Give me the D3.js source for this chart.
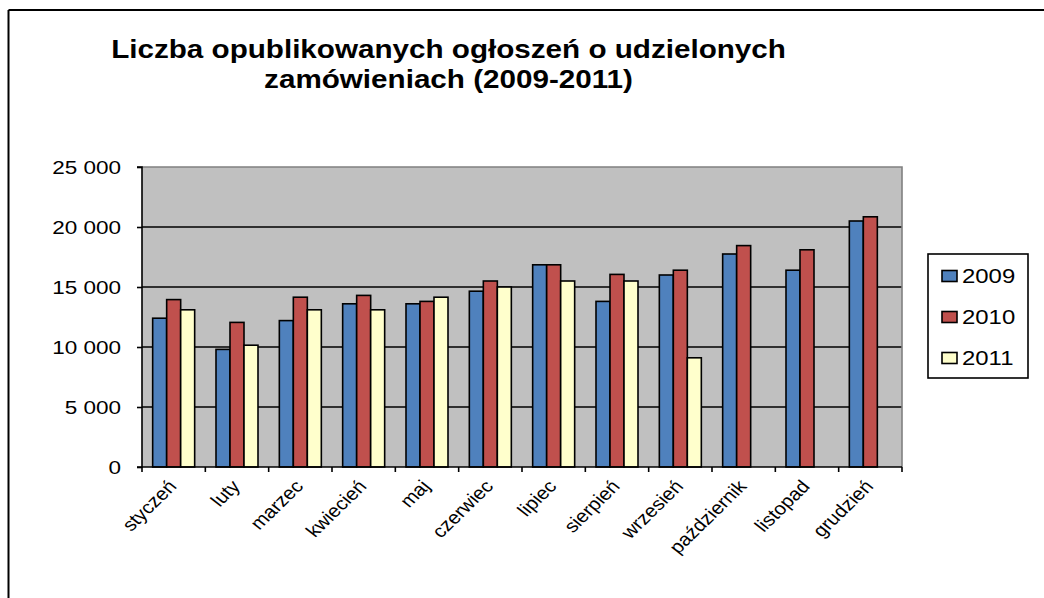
<!DOCTYPE html>
<html><head><meta charset="utf-8">
<script src="https://cdn.jsdelivr.net/npm/d3@7"></script>
<style>body{margin:0;background:#fff}svg{display:block}text{font-family:"Liberation Sans",Arial,sans-serif}</style>
</head><body>
<script>
const categories = ["styczeń","luty","marzec","kwiecień","maj","czerwiec","lipiec","sierpień","wrzesień","październik","listopad","grudzień"];
const seriesNames = ["2009","2010","2011"];
const values2009 = [12400, 9800, 12200, 13600, 13600, 14650, 16850, 13800, 16000, 17750, 16400, 20500];
const values2010 = [13950, 12050, 14150, 14300, 13800, 15500, 16850, 16050, 16400, 18450, 18100, 20850];
const values2011 = [13100, 10150, 13100, 13100, 14150, 15000, 15500, 15500, 9100, null, null, null];
const yTicks = [0, 5000, 10000, 15000, 20000, 25000];
const titleLines = ["Liczba opublikowanych ogłoszeń o udzielonych", "zamówieniach (2009-2011)"];
const colors = ["#4F81BD", "#C0504D", "#FFFFCC"];
const SX = 1.14;

(function(){
const W = 1044, H = 598;
const svg = d3.select("body").append("svg").attr("width", W).attr("height", H);

// outer frame
svg.append("line").attr("x1",8.5).attr("x2",8.5).attr("y1",10).attr("y2",H).attr("stroke","#000").attr("stroke-width",2);
svg.append("line").attr("x1",8.5).attr("x2",W).attr("y1",10).attr("y2",10).attr("stroke","#000").attr("stroke-width",2);

// title
titleLines.forEach((t,i)=>{
  svg.append("text").attr("transform",`translate(448.5,${58+i*30}) scale(${SX},1)`)
    .attr("text-anchor","middle").attr("font-size",26).attr("font-weight","bold").attr("fill","#000").text(t);
});

const pL=142, pR=902, pT=167, pB=467;
const x = d3.scaleBand().domain(categories).range([pL,pR]).paddingInner(0).paddingOuter(0);
const y = d3.scaleLinear().domain([0,25000]).range([pB,pT]);
const groupW = 42;
const xs = d3.scaleBand().domain(seriesNames).range([(x.bandwidth()-groupW)/2,(x.bandwidth()+groupW)/2]);

// plot bg
svg.append("rect").attr("x",pL).attr("y",pT).attr("width",pR-pL).attr("height",pB-pT).attr("fill","#C0C0C0");
// gridlines
svg.append("g").selectAll("line").data(yTicks.filter(d=>d>0 && d<25000)).join("line")
  .attr("x1",pL).attr("x2",pR).attr("y1",d=>y(d)).attr("y2",d=>y(d)).attr("stroke","#000").attr("stroke-width",1.6);
// top/right border
svg.append("path").attr("d",`M${pL},${pT}H${pR}V${pB}`).attr("fill","none").attr("stroke","#808080").attr("stroke-width",1.6);

// bars
const allSeries=[values2009,values2010,values2011];
allSeries.forEach((vals,si)=>{
  svg.append("g").selectAll("rect").data(categories.map((c,i)=>({c,v:vals[i]})).filter(d=>d.v!=null)).join("rect")
    .attr("x",d=>x(d.c)+xs(seriesNames[si])).attr("width",xs.bandwidth())
    .attr("y",d=>y(d.v)).attr("height",d=>y(0)-y(d.v))
    .attr("fill",colors[si]).attr("stroke","#000").attr("stroke-width",1.6);
});

// y axis
const yAxis = d3.axisLeft(y).tickValues(yTicks).tickSize(5).tickFormat(d=>d3.format(",")(d).replace(/,/g," "));
const gy = svg.append("g").attr("transform",`translate(${pL},0)`).call(yAxis);
gy.select(".domain").attr("stroke","#000").attr("stroke-width",1.6).attr("d",`M-5,${pT}H0V${pB}H-5`);
gy.selectAll(".tick line").attr("stroke","#000").attr("stroke-width",1.6);
gy.selectAll(".tick text").each(function(d){
  const t=d3.select(this);
  t.attr("x",null).attr("dy",null).attr("font-size",18).attr("fill","#000").attr("font-family",'"Liberation Sans",Arial,sans-serif')
   .attr("text-anchor","end").attr("dominant-baseline","central").attr("transform",`translate(-21,0) scale(1.25,1)`);
});

// x axis
const gx = svg.append("g").attr("transform",`translate(0,${pB})`);
gx.append("line").attr("x1",pL).attr("x2",pR).attr("stroke","#000").attr("stroke-width",1.6);
const bounds = categories.map(c=>x(c)).concat([pR]);
gx.selectAll("line.tk").data(bounds).join("line").attr("class","tk")
  .attr("x1",d=>d).attr("x2",d=>d).attr("y1",0).attr("y2",5).attr("stroke","#000").attr("stroke-width",1.6);
gx.selectAll("text").data(categories).join("text")
  .attr("transform",d=>`translate(${x(d)+x.bandwidth()/2+4},${20}) scale(${SX},1) rotate(-48)`)
  .attr("text-anchor","end").attr("font-size",18).attr("fill","#000").text(d=>d);

// legend
const lg = svg.append("g");
lg.append("rect").attr("x",928).attr("y",254).attr("width",100).attr("height",124).attr("fill","#fff").attr("stroke","#000").attr("stroke-width",1.6);
seriesNames.forEach((s,i)=>{
  const cy = 276 + i*41;
  lg.append("rect").attr("x",942).attr("y",cy-5.5).attr("width",15).attr("height",11).attr("fill",colors[i]).attr("stroke","#000").attr("stroke-width",1.6);
  lg.append("text").attr("transform",`translate(962,${cy}) scale(${SX},1)`).attr("dominant-baseline","central")
    .attr("font-size",21).attr("fill","#000").text(s);
});
})();
</script>
</body></html>
